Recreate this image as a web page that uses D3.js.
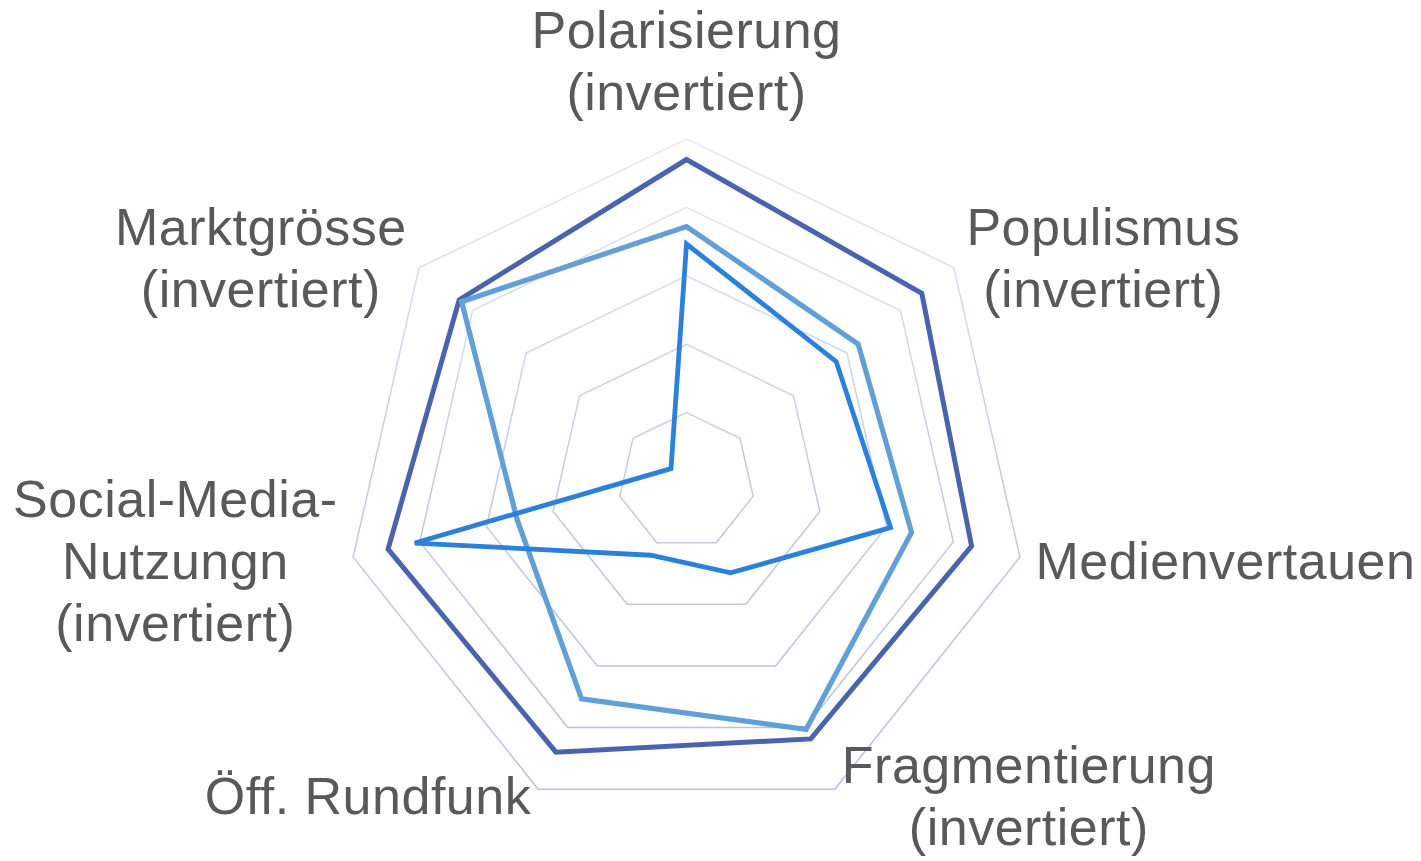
<!DOCTYPE html>
<html>
<head>
  <meta charset='utf-8'>
  <title>Radar</title>
  <script src="https://cdnjs.cloudflare.com/ajax/libs/d3/7.8.5/d3.min.js"></script>
  <style>
    html, body {
      margin: 0;
      padding: 0;
      background: #ffffff;
    }
    svg {
      display: block;
      font-family: 'Liberation Sans', Arial, sans-serif;
    }
  </style>
</head>
<body>
  <svg id="chart"></svg>
  <script>
    // axis labels, clockwise from the top (each entry = lines of text)
    const axes = [
      ["Polarisierung", "(invertiert)"],
      ["Populismus", "(invertiert)"],
      ["Medienvertauen"],
      ["Fragmentierung", "(invertiert)"],
      ["Öff. Rundfunk"],
      ["Social-Media-", "Nutzungn", "(invertiert)"],
      ["Marktgrösse", "(invertiert)"]
    ];

    // values (share of the outer ring)
    const seriesA = [0.94, 0.88, 0.855, 0.837, 0.88, 0.895, 0.85];
    const seriesB = [0.744, 0.642, 0.675, 0.806, 0.707, 0.508, 0.841];
    const seriesC = [0.693, 0.56, 0.612, 0.298, 0.241, 0.815, 0.058];

    const ringTicks = [0.2, 0.4, 0.6, 0.8, 1.0];

    const seriesColors = ["#4a63ad", "#60a0d6", "#2a80da"];
    const seriesWidths = [5, 5.2, 4.8];

    const width = 1421;
    const height = 861;
    const cx = 686.5;
    const cy = 481;
    const radius = 342;
    const fontSize = 52;
    const lineHeight = 62;

    const svg = d3.select('#chart')
      .attr('width', width)
      .attr('height', height)
      .attr('viewBox', `0 0 ${width} ${height}`);

    svg.append('rect')
      .attr('width', width)
      .attr('height', height)
      .attr('fill', '#ffffff');

    // gridlines get lighter towards the top (coords are in the chart group)
    const grad = svg.append('defs').append('linearGradient')
      .attr('id', 'gridGrad')
      .attr('gradientUnits', 'userSpaceOnUse')
      .attr('x1', 0).attr('y1', -radius)
      .attr('x2', 0).attr('y2', radius * 0.9);
    grad.append('stop').attr('offset', 0).attr('stop-color', '#e6e9f5');
    grad.append('stop').attr('offset', 0.5).attr('stop-color', '#c3cce7');
    grad.append('stop').attr('offset', 1).attr('stop-color', '#b3c0e1');

    const r = d3.scaleLinear().domain([0, 1]).range([0, radius]);
    const angle = d3.scalePoint()
      .domain(d3.range(axes.length))
      .range([0, 2 * Math.PI * (axes.length - 1) / axes.length]);

    const g = svg.append('g').attr('transform', `translate(${cx},${cy})`);

    const radial = d3.lineRadial()
      .angle((d, i) => angle(i))
      .radius(d => r(d))
      .curve(d3.curveLinearClosed);

    // rings
    g.selectAll('path.ring')
      .data(ringTicks)
      .join('path')
      .attr('class', 'ring')
      .attr('d', t => radial(axes.map(() => t)))
      .attr('fill', 'none')
      .attr('stroke', 'url(#gridGrad)')
      .attr('stroke-width', 1.5);

    // series
    const allSeries = [seriesA, seriesB, seriesC];
    g.selectAll('path.series')
      .data(allSeries)
      .join('path')
      .attr('class', 'series')
      .attr('d', d => radial(d))
      .attr('fill', 'none')
      .attr('stroke', (d, i) => seriesColors[i])
      .attr('stroke-width', (d, i) => seriesWidths[i])
      .attr('stroke-linejoin', 'miter');

    // labels
    const labelGap = 16;
    const labels = g.append('g');
    axes.forEach((lines, i) => {
      const a = angle(i);
      const s = Math.sin(a);
      const c = -Math.cos(a);
      const px = (radius + labelGap) * s;
      const py = (radius + labelGap) * c;

      const t = labels.append('text')
        .attr('fill', '#595959')
        .attr('font-size', fontSize)
        .attr('letter-spacing', 0.5)
        .attr('text-anchor', 'middle');
      lines.forEach(l => t.append('tspan').text(l));

      // block width = widest line
      const widths = [];
      t.selectAll('tspan').each(function () { widths.push(this.getComputedTextLength()); });
      const blockW = d3.max(widths);

      let centerX;
      if (Math.abs(s) < 0.1) centerX = px;
      else if (s > 0) centerX = px + blockW / 2;
      else centerX = px - blockW / 2;

      let firstBase;
      if (Math.abs(s) < 0.1 && c < 0) {
        firstBase = py - 13 - (lines.length - 1) * lineHeight;
      } else {
        const lift = c > 0.5 ? 8 : 0;
        firstBase = py - lift - (lines.length - 1) * lineHeight / 2 + fontSize * 0.358;
      }

      t.selectAll('tspan')
        .attr('x', centerX)
        .attr('y', (d, j) => firstBase + j * lineHeight);
    });
  </script>
</body>
</html>
